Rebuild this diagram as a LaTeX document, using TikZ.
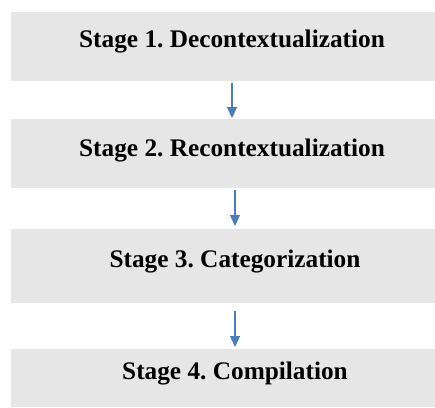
\documentclass[tikz,border=0pt]{standalone}
\usepackage{fontspec}
\setmainfont{Liberation Serif}
\usetikzlibrary{arrows.meta}
\definecolor{boxgray}{HTML}{E6E6E6}
\definecolor{arrblue}{HTML}{4A7EBB}
\frenchspacing
\begin{document}
\begin{tikzpicture}[x=1pt,y=-1pt,
  stagebox/.style={fill=boxgray,draw=none,minimum width=424pt,inner sep=0pt,anchor=north west},
  stagetext/.style={font=\bfseries\fontsize{25.3}{29}\selectfont,inner sep=0pt},
  flow/.style={draw=arrblue,line width=1.3pt,-{Triangle[length=11pt,width=10pt]}}]
\useasboundingbox (0,0) rectangle (435,407);
\node[stagebox,minimum height=69pt] (b1) at (11,12) {};
\node[stagebox,minimum height=69pt] (b2) at (11,119) {};
\node[stagebox,minimum height=74pt] (b3) at (11,229) {};
\node[stagebox,minimum height=58pt] (b4) at (11,349) {};
\node[stagetext] (t1) at (232,42) {Stage 1. Decontextualization};
\node[stagetext] (t2) at (232,151) {Stage 2. Recontextualization};
\node[stagetext] (t3) at (235,262) {Stage 3. Categorization};
\node[stagetext] (t4) at (235,374) {Stage 4. Compilation};
\coordinate (a1s) at (232,83); \coordinate (a1e) at (232,118);
\coordinate (a2s) at (235,190); \coordinate (a2e) at (235,226);
\coordinate (a3s) at (235,311); \coordinate (a3e) at (235,347);
\draw[flow] (a1s) -- (a1e);
\draw[flow] (a2s) -- (a2e);
\draw[flow] (a3s) -- (a3e);
\end{tikzpicture}
\end{document}
